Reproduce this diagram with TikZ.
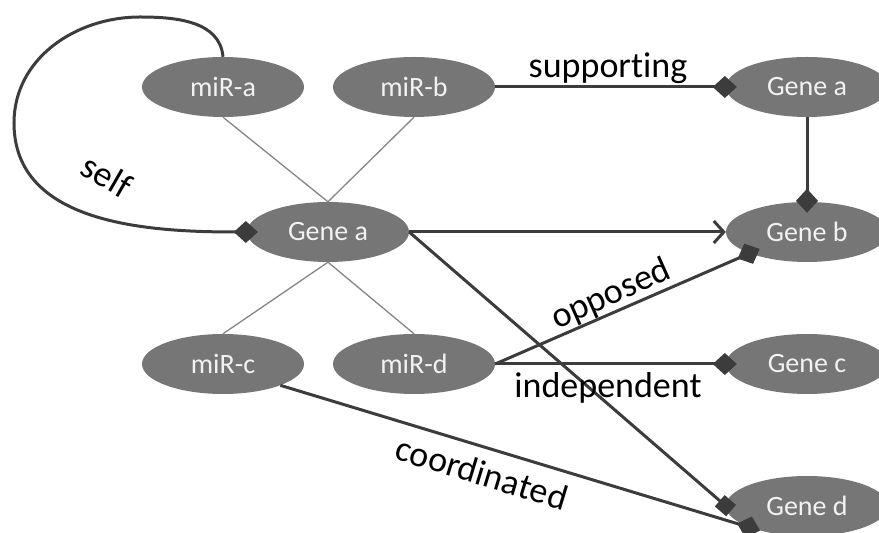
\documentclass[tikz,border=0pt]{standalone}
\usepackage{fontspec}
\setmainfont{Carlito}[RawFeature={-liga;-clig;-calt;-dlig}]
\usetikzlibrary{shapes.geometric,arrows.meta}
\definecolor{nodefill}{HTML}{767676}
\definecolor{edgecol}{HTML}{3C3C3C}
\definecolor{thincol}{HTML}{858585}
\begin{document}
\begin{tikzpicture}[x=1pt,y=1pt,
  nd/.style={ellipse,fill=nodefill,draw=none,minimum width=162pt,minimum height=60pt,inner sep=0pt,text=white!95!black,font=\fontsize{28}{30}\selectfont},
  thin link/.style={draw=thincol,line width=1.3pt},
  link/.style={draw=edgecol,line width=3pt},
  dia/.style={-{Diamond[length=24pt,width=22pt,fill=edgecol]},shorten >=-11pt},
  sq/.style={-{Square[length=15pt,width=15pt,fill=edgecol]},shorten >=-7pt},
  lbl/.style={font=\fontsize{36}{38}\selectfont,text=black,inner sep=0pt}
]
\useasboundingbox (0,0) rectangle (879,533);
\clip (0,0) rectangle (879,533);
\node[nd] (ma) at (223,446) {miR-a};
\node[nd] (mb) at (414,446) {miR-b};
\node[nd] (gA) at (807,446) {Gene a};
\node[nd] (ga) at (328,301) {Gene a};
\node[nd] (gb) at (807,301) {Gene b};
\node[nd] (mc) at (223,169) {miR-c};
\node[nd] (md) at (414,169) {miR-d};
\node[nd] (gc) at (807,169) {Gene c};
\node[nd] (gd) at (807,27) {Gene d};
% thin links
\draw[thin link] (ma.south) -- (ga.north);
\draw[thin link] (mb.south) -- (ga.north);
\draw[thin link] (ga.south) -- (mc.north);
\draw[thin link] (ga.south) -- (md.north);
% self loop
\coordinate (s1) at (140,516);
\coordinate (s2) at (14,410);
\draw[link,dia] (ma.north) to[out=95,in=0] (s1) to[out=180,in=90] (s2) to[out=-90,in=180] (ga.west);
\node[lbl,rotate=-30] (lself) at (107,357) {self};
% supporting
\draw[link,dia] (mb.east) -- (gA.west);
\node[lbl] (lsup) at (608,465) {suppor\kern0pt t\kern0pt ing};
% gene a -> gene b vertical
\draw[link,dia] (gA.south) -- (gb.north);
% arrow
\draw[link,-{Straight Barb[length=10pt,width=22pt,line width=3pt]}] (ga.east) -- (gb.west);
% ga to gd
\draw[link,sq] (ga.east) -- (gd.west);
% opposed
\draw[link,dia] (md.east) -- (gb.south west);
\node[lbl,rotate=24] (lopp) at (611,238) {opposed};
% independent
\draw[link,dia] (md.east) -- (gc.west);
\node[lbl] (lind) at (608,145) {independent};
% coordinated
\draw[link,dia] (mc.south east) -- (gd.south west);
\node[lbl,rotate=-17] (lcoo) at (482,60) {coordina\kern0pt t\kern0pt ed};
\end{tikzpicture}
\end{document}
